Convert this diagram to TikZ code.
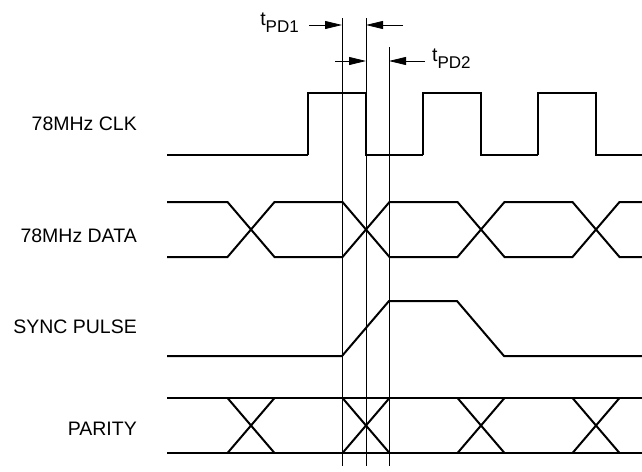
\documentclass[tikz,border=0pt]{standalone}
\usepackage{fontspec}
\setmainfont{Liberation Sans}
\usetikzlibrary{arrows.meta}

\begin{document}
\begin{tikzpicture}[x=1pt,y=-1pt,
  sig/.style={line width=2pt},
  guide/.style={line width=0.8pt},
  dimarrow/.style={line width=0.8pt, -{Triangle[length=17pt,width=8pt]}},
  siglabel/.style={anchor=base east, inner sep=0pt, font=\fontsize{19.5}{23}\selectfont},
  tlabel/.style={inner sep=0pt, font=\fontsize{19.5}{23}\selectfont}]
  \useasboundingbox (0,0) rectangle (642,471);

  % Signal names
  \node[siglabel] (clklbl)  at (137,130) {78MHz CLK};
  \node[siglabel] (datalbl) at (137,242) {78MHz DATA};
  \node[siglabel] (synclbl) at (137,333) {SYNC PULSE};
  \node[siglabel] (parlbl)  at (137,435) {PARITY};

  % Guide lines
  \coordinate (g1top) at (342,18);  \coordinate (g1bot) at (342,466);
  \coordinate (g2top) at (366,18);  \coordinate (g2bot) at (366,466);
  \coordinate (g3top) at (389,47);  \coordinate (g3bot) at (389,466);
  \draw[guide] (g1top) -- (g1bot);
  \draw[guide] (g2top) -- (g2bot);
  \draw[guide] (g3top) -- (g3bot);

  % Propagation delays
  \node[tlabel, anchor=base east] (tpd1) at (299,25) {t\raisebox{-7pt}{\fontsize{17}{20}\selectfont PD1}};
  \node[tlabel, anchor=base west] (tpd2) at (432,61) {t\raisebox{-7pt}{\fontsize{17}{20}\selectfont PD2}};
  \coordinate (a1tail) at (309,25);  \coordinate (a1tip) at (342,25);
  \coordinate (a2tail) at (403,25);  \coordinate (a2tip) at (366,25);
  \coordinate (a3tail) at (335,61);  \coordinate (a3tip) at (366,61);
  \coordinate (a4tail) at (425,61);  \coordinate (a4tip) at (389,61);
  \draw[dimarrow] (a1tail) -- (a1tip);
  \draw[dimarrow] (a2tail) -- (a2tip);
  \draw[dimarrow] (a3tail) -- (a3tip);
  \draw[dimarrow] (a4tail) -- (a4tip);

  % Clock
  \draw[sig] (167,155) -- (308,155);
  \foreach \x in {308,423,538}
    \draw[sig] (\x,155) -- (\x,92.5) -- (\x+58,92.5) -- (\x+58,155) -- (\x+115,155);

  % Data
  \draw[sig] (167,202) -- (227.5,202) -- (274.5,257) -- (342.5,257) -- (389.5,202) -- (457.5,202)
    -- (504.5,257) -- (572.5,257) -- (619.5,202) -- (642,202);
  \draw[sig] (167,257) -- (227.5,257) -- (274.5,202) -- (342.5,202) -- (389.5,257) -- (457.5,257)
    -- (504.5,202) -- (572.5,202) -- (619.5,257) -- (642,257);

  % Sync pulse
  \draw[sig] (167,356) -- (342,356) -- (389,301) -- (457,301) -- (504,356) -- (642,356);

  % Parity
  \draw[sig] (167,398) -- (642,398);
  \draw[sig] (167,453) -- (642,453);
  \foreach \c in {251,366,481,596} {
    \draw[sig] (\c-23.5,398) -- (\c+23.5,453);
    \draw[sig] (\c-23.5,453) -- (\c+23.5,398);
  }
\end{tikzpicture}
\end{document}
